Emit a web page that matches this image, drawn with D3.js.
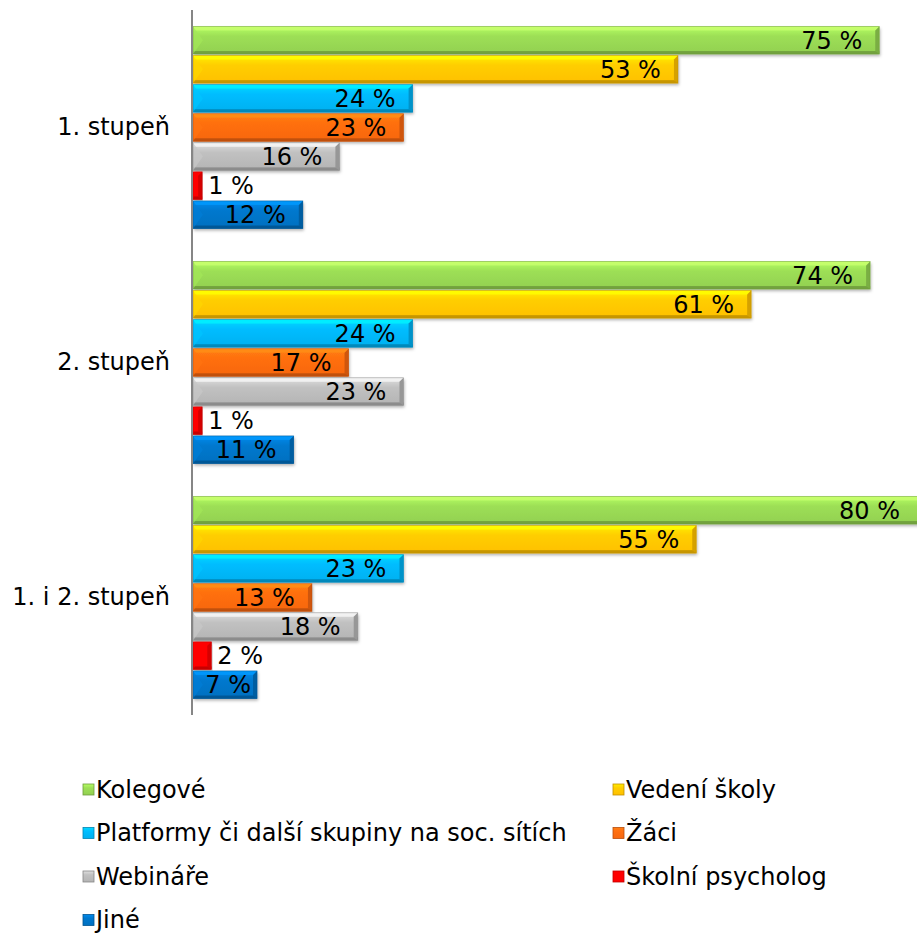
<!DOCTYPE html>
<html>
<head>
<meta charset="utf-8">
<script src="https://cdn.jsdelivr.net/npm/d3@7"></script>
<style>
  body { margin: 0; background: #fff; }
  svg { display: block; font-family: "DejaVu Sans", Verdana, sans-serif; }
</style>
</head>
<body>
<div id="chart"></div>
<script>
const categories = ['1. stupeň', '2. stupeň', '1. i 2. stupeň'];
const seriesNames = ['Kolegové', 'Vedení školy', 'Platformy či další skupiny na soc. sítích', 'Žáci', 'Webináře', 'Školní psycholog', 'Jiné'];
const seriesColors = ['#92d050', '#ffc000', '#00b0f0', '#f7670f', '#b4b4b4', '#ff0000', '#0070c0'];
const kolegove = [75, 74, 80];
const vedeni = [53, 61, 55];
const platformy = [24, 24, 23];
const zaci = [23, 17, 13];
const webinare = [16, 23, 18];
const psycholog = [1, 1, 2];
const jine = [12, 11, 7];
const seriesValues = [kolegove, vedeni, platformy, zaci, webinare, psycholog, jine];

const W = 917, H = 933;
const svg = d3.select('#chart').append('svg').attr('width', W).attr('height', H);

const x = d3.scaleLinear().domain([0, 80]).range([193, 925]);
const y0 = d3.scaleBand().domain(categories).range([10, 715]).paddingInner(0).paddingOuter(0);
const y1 = d3.scaleBand().domain(seriesNames).range([15, y0.bandwidth() - 15]).padding(0.05);

const defs = svg.append('defs');
seriesColors.forEach((c, i) => {
    const g = defs.append('linearGradient').attr('id', 'g' + i)
        .attr('x1', 0).attr('y1', 0).attr('x2', 0).attr('y2', 1);
    g.append('stop').attr('offset', '0%').attr('stop-color', d3.color(c).brighter(0.6));
    g.append('stop').attr('offset', '35%').attr('stop-color', d3.color(c).brighter(0.2));
    g.append('stop').attr('offset', '100%').attr('stop-color', c);
});
const shadow = defs.append('filter').attr('id', 'sh').attr('x', -0.05).attr('y', -0.2).attr('width', 1.1).attr('height', 1.6);
shadow.append('feDropShadow').attr('dx', 1).attr('dy', 2).attr('stdDeviation', 1.5).attr('flood-color', '#000').attr('flood-opacity', 0.3);

const data = [];
categories.forEach((cat, ci) => {
    seriesNames.forEach((name, si) => {
        data.push({cat, name, si, value: seriesValues[si][ci]});
    });
});

const bars = svg.append('g').selectAll('g')
    .data(data)
    .join('g')
    .attr('transform', d => `translate(0,${y0(d.cat) + y1(d.name)})`);

const bh = y1.bandwidth();
const bev = 4;

bars.append('rect')
    .attr('x', x(0)).attr('y', 0)
    .attr('width', d => x(d.value) - x(0)).attr('height', bh)
    .attr('fill', d => `url(#g${d.si})`)
    .attr('filter', 'url(#sh)');
// top highlight
bars.append('rect')
    .attr('x', x(0)).attr('y', 0)
    .attr('width', d => x(d.value) - x(0)).attr('height', bev)
    .attr('fill', d => d3.color(seriesColors[d.si]).brighter(0.9))
    .attr('opacity', 0.8);
// bottom edge
bars.append('rect')
    .attr('x', x(0)).attr('y', bh - bev + 1)
    .attr('width', d => x(d.value) - x(0)).attr('height', bev - 1)
    .attr('fill', d => d3.color(seriesColors[d.si]).darker(0.7));
// right edge
bars.append('polygon')
    .attr('points', d => {
        const r = x(d.value), w = Math.min(bev, (r - x(0)) / 2);
        return `${r - w},${bev} ${r},0 ${r},${bh} ${r - w},${bh - bev + 1}`;
    })
    .attr('fill', d => d3.color(seriesColors[d.si]).darker(0.5));
// left bevel triangle
bars.append('polygon')
    .attr('points', d => {
        const l = x(0), w = Math.min(10, (x(d.value) - l) / 2);
        return `${l},0 ${l + w},${bh / 2} ${l},${bh}`;
    })
    .attr('fill', d => d3.color(seriesColors[d.si]).brighter(0.3))
    .attr('opacity', 0.7);
bars.append('rect')
    .attr('x', x(0)).attr('y', 0)
    .attr('width', d => x(d.value) - x(0)).attr('height', bh)
    .attr('fill', 'none')
    .attr('stroke', d => d3.color(seriesColors[d.si]).darker(0.8))
    .attr('stroke-width', 0.8)
    .attr('stroke-opacity', 0.6);

const fmt = d => `${d3.format('d')(d)} %`;
bars.append('text')
    .attr('font-size', 24)
    .attr('fill', '#000')
    .attr('dy', '0.36em')
    .attr('y', bh / 2)
    .each(function(d) {
        const inside = x(d.value) - x(0) > 55;
        const end = Math.min(x(d.value), W);
        d3.select(this)
            .attr('x', inside ? Math.max(end - 17, x(0) + 58) : end + 6)
            .attr('text-anchor', inside ? 'end' : 'start')
            .text(fmt(d.value));
    });

// axis
const yAxis = svg.append('g')
    .attr('transform', `translate(${x(0) - 1},0)`)
    .call(d3.axisLeft(y0).tickSize(0).tickPadding(22));
yAxis.select('.domain').attr('stroke', '#868686').attr('stroke-width', 2).attr('d', 'M0,10V715');
yAxis.selectAll('text')
    .attr('font-size', 24)
    .attr('fill', '#000')
    .attr('font-family', '"DejaVu Sans", Verdana, sans-serif');

// legend
const legend = svg.append('g').selectAll('g')
    .data(seriesNames)
    .join('g')
    .attr('transform', (d, i) => `translate(${i % 2 === 0 ? 83 : 613},${789 + Math.floor(i / 2) * 43.5})`);
legend.append('rect')
    .attr('x', 0).attr('y', -5).attr('width', 11).attr('height', 11)
    .attr('fill', (d, i) => `url(#g${i})`)
    .attr('stroke', (d, i) => d3.color(seriesColors[i]).darker(0.8))
    .attr('stroke-width', 0.8);
legend.append('text')
    .attr('x', 13).attr('dy', '0.36em')
    .attr('font-size', 24)
    .text(d => d);
</script>
</body>
</html>
